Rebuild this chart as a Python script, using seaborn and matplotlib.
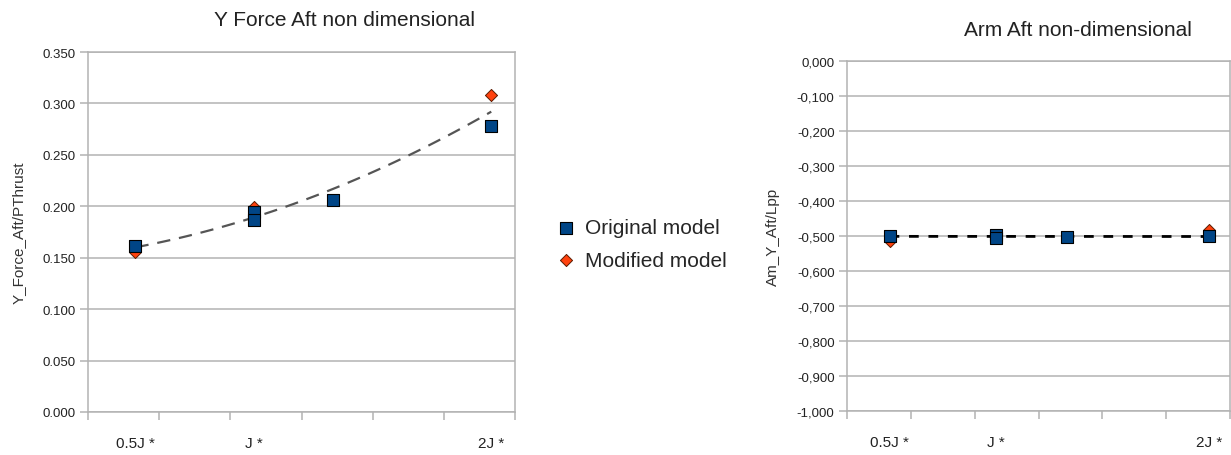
import matplotlib
matplotlib.use("Agg")
import matplotlib.pyplot as plt
from matplotlib.ticker import FuncFormatter, FixedLocator
import numpy as np
import pandas as pd
import seaborn as sns

# ---- data -------------------------------------------------------------
x_tick_labels = ["0.5J *", "J *", "2J *"]
x_tick_pos = [0.5, 1.0, 2.0]

orig_x = [0.5, 1.0, 1.0, 4 / 3, 2.0]
orig_force = [0.161, 0.194, 0.187, 0.206, 0.278]
orig_arm = [-0.500, -0.497, -0.505, -0.504, -0.500]

mod_x = [0.5, 1.0, 2.0]
mod_force = [0.156, 0.199, 0.308]
mod_arm = [-0.513, -0.505, -0.484]

series_names = ["Original model", "Modified model"]
# ----------------------------------------------------------------------

sns.set_theme(style="white")
plt.rcParams["font.family"] = ["Liberation Sans", "DejaVu Sans"]

BLUE = "#004586"
ORANGE = "#ff420e"
GRID = "#b3b3b3"
TEXT = "#222222"

orig = pd.DataFrame({"x": orig_x, "force": orig_force, "arm": orig_arm})
mod = pd.DataFrame({"x": mod_x, "force": mod_force, "arm": mod_arm})
both = pd.concat([orig, mod], ignore_index=True)

W, H = 1231, 456
fig = plt.figure(figsize=(W / 100, H / 100), dpi=100)
ax1 = fig.add_axes([88 / W, 1 - 413 / H, (515 - 88) / W, (413 - 53) / H])
ax2 = fig.add_axes([847 / W, 1 - 412 / H, (1230 - 847) / W, (412 - 62) / H])


def style_axes(ax, ylim, yticks, fmt, ytick_pad):
    ax.set_xlim(0.3, 2.1)
    ax.set_ylim(*ylim)
    ax.xaxis.set_major_locator(FixedLocator(np.arange(0.3, 2.11, 0.3)))
    ax.xaxis.set_major_formatter(FuncFormatter(lambda v, p: ""))
    ax.xaxis.set_minor_locator(FixedLocator(x_tick_pos))
    ax.set_xticklabels(x_tick_labels, minor=True)
    ax.set_yticks(yticks)
    ax.yaxis.set_major_formatter(FuncFormatter(fmt))
    ax.grid(axis="y", color=GRID, linewidth=1.1)
    ax.grid(axis="x", visible=False)
    for sp in ax.spines.values():
        sp.set_color(GRID)
        sp.set_linewidth(1.1)
    ax.tick_params(axis="x", which="major", direction="out", length=5.5,
                   width=1.1, color=GRID, bottom=True)
    ax.tick_params(axis="x", which="minor", length=0, pad=17,
                   labelsize=11, labelcolor=TEXT, bottom=True)
    ax.tick_params(axis="y", which="major", direction="out", length=6,
                   width=1.1, color=GRID, left=True, pad=ytick_pad,
                   labelsize=9.5, labelcolor=TEXT)
    ax.set_xlabel("")


def draw_points(ax, col):
    sns.scatterplot(data=mod, x="x", y=col, marker="D", s=38, color=ORANGE,
                    edgecolor="#5a1a00", linewidth=0.7, label=series_names[1],
                    ax=ax, zorder=3)
    sns.scatterplot(data=orig, x="x", y=col, marker="s", s=66, color=BLUE,
                    edgecolor="black", linewidth=0.8, label=series_names[0],
                    ax=ax, zorder=4)


# Left: Y force, quadratic trend over both series
sns.regplot(data=both, x="x", y="force", order=2, ci=None, scatter=False,
            truncate=True, ax=ax1,
            line_kws=dict(color="#555555", linewidth=1.6, dashes=(6, 4), zorder=2))
draw_points(ax1, "force")
style_axes(ax1, (0, 0.35), np.arange(0, 0.351, 0.05),
           lambda v, p: f"{v:.3f}", 3)
ax1.set_ylabel("Y_Force_Aft/PThrust", fontsize=11, color="#333333", labelpad=12)

# Right: arm, linear trend
sns.regplot(data=orig, x="x", y="arm", order=1, ci=None, scatter=False,
            truncate=True, ax=ax2,
            line_kws=dict(color="black", linewidth=2.0, dashes=(3.5, 3.5), zorder=2))
draw_points(ax2, "arm")


def comma_fmt(v, p):
    s = f"{abs(v):.3f}".replace(".", ",")
    return s if abs(v) < 1e-9 else ("-" + s if v < 0 else s)


style_axes(ax2, (-1.0, 0.0), np.arange(-1.0, 0.001, 0.1), comma_fmt, 3)
ax2.set_ylabel("Am_Y_Aft/Lpp", fontsize=11, color="#333333", labelpad=12)

# Legend between the two panels
handles, labels = ax1.get_legend_handles_labels()
order = [labels.index(n) for n in series_names]
ax1.legend([handles[i] for i in order], [labels[i] for i in order],
           loc="center left", bbox_to_anchor=(556 / W, 1 - 245 / H),
           bbox_transform=fig.transFigure, frameon=False, fontsize=15,
           handlelength=1.0, handletextpad=0.4, labelspacing=0.63,
           borderpad=0, borderaxespad=0)
if ax2.get_legend() is not None:
    ax2.get_legend().remove()

fig.text(344 / W, 1 - 20 / H, "Y Force Aft non dimensional", ha="center",
         va="center", fontsize=15, color=TEXT)
fig.text(1078 / W, 1 - 30 / H, "Arm Aft non-dimensional", ha="center",
         va="center", fontsize=15, color=TEXT)

fig.savefig("out.png", dpi=100)
